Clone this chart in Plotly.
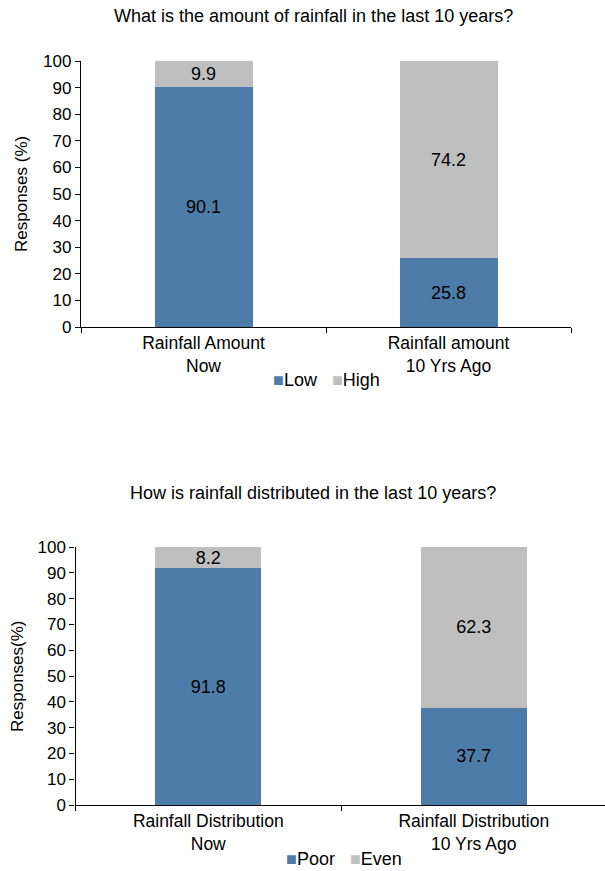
import plotly.graph_objects as go

# Rainfall amount survey
amount_categories = ["Rainfall Amount<br>Now", "Rainfall amount<br>10 Yrs Ago"]
amount_low = [90.1, 25.8]
amount_high = [9.9, 74.2]

# Rainfall distribution survey
dist_categories = ["Rainfall Distribution<br>Now", "Rainfall Distribution<br>10 Yrs Ago"]
dist_poor = [91.8, 37.7]
dist_even = [8.2, 62.3]

y_ticks = list(range(0, 101, 10))

BLUE = "#4E7CA8"
GREY = "#BFBFBF"
FONT = "Liberation Sans, Arial, sans-serif"
W, H = 605, 871


def px_x(v):
    return v / W


def px_y(v):
    return 1 - v / H


fig = go.Figure()

common = dict(width=0.4, textposition="inside", insidetextanchor="middle",
              texttemplate="%{y}", textfont=dict(color="black", size=18, family=FONT),
              marker_line_width=0, showlegend=False, constraintext="none")

fig.add_trace(go.Bar(x=amount_categories, y=amount_low, name="Low", marker_color=BLUE,
                     xaxis="x", yaxis="y", **common))
fig.add_trace(go.Bar(x=amount_categories, y=amount_high, name="High", marker_color=GREY,
                     xaxis="x", yaxis="y", **common))
fig.add_trace(go.Bar(x=dist_categories, y=dist_poor, name="Poor", marker_color=BLUE,
                     xaxis="x2", yaxis="y2", **common))
fig.add_trace(go.Bar(x=dist_categories, y=dist_even, name="Even", marker_color=GREY,
                     xaxis="x2", yaxis="y2", **common))

xcommon = dict(showline=True, linecolor="black", linewidth=1.3, ticks="outside",
               tickson="boundaries", ticklen=5, tickcolor="black", showgrid=False,
               automargin=False,
               tickfont=dict(size=17.5, color="black", family=FONT), fixedrange=True)
ycommon = dict(range=[0, 100], tickvals=y_ticks, showline=True, linecolor="black",
               linewidth=1.3, ticks="outside", ticklen=5, tickcolor="black",
               showgrid=False, zeroline=False, automargin=False,
               tickfont=dict(size=17, color="black", family=FONT))

# bottom axis runs past the right edge of the page, so its range is trimmed
bottom_left, bottom_cat_px = 75.5, 265.5
bottom_range_end = -0.5 + (W - bottom_left) / bottom_cat_px

GAP = "\u00a0\u00a0"


def legend_text(items):
    parts = []
    for label, color in items:
        parts.append(f"<span style='color:{color}'>■</span>{label}")
    return (GAP + " ").join(parts)


def ann(text, x, y, size, **kw):
    return dict(text=text, x=px_x(x), y=px_y(y), xref="paper", yref="paper",
                showarrow=False, xanchor="center", yanchor="middle",
                font=dict(size=size, color="black", family=FONT), **kw)


fig.update_layout(
    width=W, height=H,
    margin=dict(l=0, r=0, t=0, b=0),
    paper_bgcolor="white", plot_bgcolor="white",
    barmode="stack",
    showlegend=False,
    font=dict(family=FONT, color="black"),
    xaxis=dict(domain=[px_x(81), px_x(571)], anchor="y", **xcommon),
    yaxis=dict(domain=[px_y(327), px_y(61)], anchor="x", **ycommon),
    xaxis2=dict(domain=[px_x(bottom_left), 1.0], anchor="y2",
                range=[-0.5, bottom_range_end], **xcommon),
    yaxis2=dict(domain=[px_y(805), px_y(547)], anchor="x2", **ycommon),
    annotations=[
        ann("What is the amount of rainfall in the last 10 years?", 313, 16, 18),
        ann("How is rainfall distributed in the last 10 years?", 313, 493, 18),
        ann("Responses (%)", 21, 194, 17, textangle=-90),
        ann("Responses(%)", 17, 676, 17, textangle=-90),
        ann(legend_text([("Low", BLUE), ("High", GREY)]), 326, 380, 18),
        ann(legend_text([("Poor", BLUE), ("Even", GREY)]), 344, 859, 18),
    ],
)

fig.write_html("out.html")
